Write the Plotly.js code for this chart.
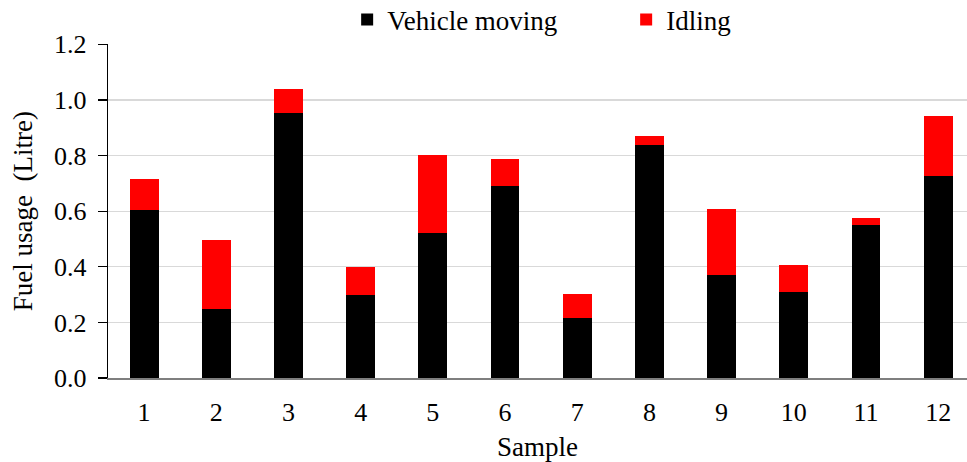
<!DOCTYPE html>
<html>
<head>
<meta charset="utf-8">
<script src="https://cdn.plot.ly/plotly-3.0.1.min.js"></script>
<style>html,body{margin:0;padding:0;background:#fff;}#chart{width:967px;height:462px;}</style>
</head>
<body>
<div id="chart"></div>
<script>
var samples = ['1','2','3','4','5','6','7','8','9','10','11','12'];
var vehicleMoving = [0.605, 0.248, 0.952, 0.298, 0.523, 0.691, 0.217, 0.838, 0.371, 0.311, 0.550, 0.725];
var idling = [0.109, 0.247, 0.086, 0.101, 0.278, 0.096, 0.086, 0.031, 0.237, 0.096, 0.026, 0.218];
var yTicks = [0, 0.2, 0.4, 0.6, 0.8, 1.0, 1.2];
var yTickText = ['0.0','0.2','0.4','0.6','0.8','1.0','1.2'];

var fontFam = '"Liberation Serif", "Times New Roman", serif';
var xs = samples.map(function(s){ return Number(s); });

var traces = [
  {type:'bar', name:'Vehicle moving', x:xs, y:vehicleMoving, marker:{color:'#000000'}},
  {type:'bar', name:'Idling', x:xs, y:idling, marker:{color:'#ff0000'}}
];

var layout = {
  width:967, height:462,
  barmode:'stack', bargap:0.6,
  margin:{l:108, r:0, t:43, b:84},
  paper_bgcolor:'#fff', plot_bgcolor:'#fff',
  font:{family:fontFam, size:26, color:'#000'},
  showlegend:true,
  legend:{orientation:'h', xref:'container', yref:'container', x:0.359, y:0.957, xanchor:'left', yanchor:'middle',
          entrywidth:234, entrywidthmode:'pixels', font:{family:fontFam, size:27, color:'#000'}, traceorder:'normal', bgcolor:'rgba(0,0,0,0)'},
  xaxis:{range:[0.5, 12.4], tickmode:'array', tickvals:xs, ticktext:samples, showgrid:false, zeroline:false,
         showline:true, linecolor:'#7f7f7f', linewidth:1.5, ticks:'', ticklabelstandoff:10,
         title:{text:'Sample', font:{family:fontFam, size:27, color:'#000'}, standoff:12}},
  yaxis:{range:[0, 1.2], tickmode:'array', tickvals:yTicks, ticktext:yTickText, showgrid:true, gridcolor:'#d9d9d9', gridwidth:1.2,
         zeroline:false, showline:true, linecolor:'#000', linewidth:1.2, ticks:'outside', ticklen:9, tickcolor:'#000', tickwidth:1.2,
         ticklabelstandoff:6,
         title:{text:'Fuel usage&nbsp;&nbsp;(Litre)', font:{family:fontFam, size:27, color:'#000'}, standoff:13}}
};

Plotly.newPlot('chart', traces, layout, {displayModeBar:false, staticPlot:true});
</script>
</body>
</html>
